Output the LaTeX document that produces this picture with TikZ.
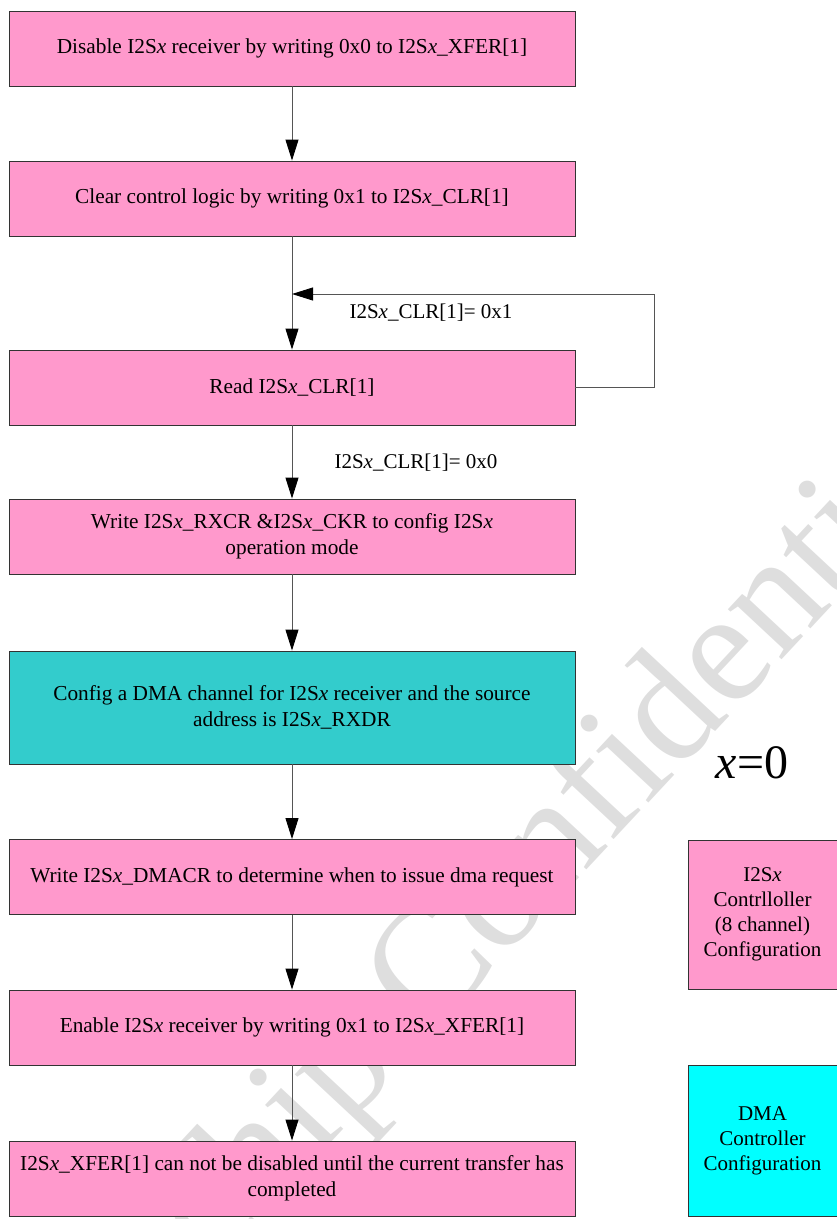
\documentclass[tikz,border=0pt]{standalone}
\usepackage{fontspec}
\setmainfont{Liberation Serif}
\usetikzlibrary{arrows.meta}
\definecolor{pinkc}{HTML}{FF99CC}
\definecolor{tealc}{HTML}{33CCCC}
\definecolor{cyanc}{HTML}{00FFFF}
\definecolor{wmc}{RGB}{222,222,222}
\definecolor{linec}{RGB}{85,85,85}
\newcommand\Ix{I2S\textit{x}}
\tikzset{
  flowbox/.style={draw=black!80, line width=0.9pt, fill=pinkc, minimum width=566pt, minimum height=75pt, inner sep=2pt, align=center, font=\fontsize{21.3}{26}\selectfont},
  sidebox/.style={draw=black!80, line width=0.9pt, fill=pinkc, minimum width=149pt, minimum height=149pt, inner sep=2pt, align=center, font=\fontsize{21}{25}\selectfont},
  lbl/.style={font=\fontsize{21}{26}\selectfont, inner sep=0pt},
  flowarrow/.style={draw=linec, line width=0.9pt, -{Triangle[length=21pt,width=13pt,color=black]}},
}
\begin{document}
\begin{tikzpicture}[x=1pt,y=-1pt]
\useasboundingbox (0,0) rectangle (837,1219);
% watermark
\node[rotate=47, anchor=base, text=wmc, inner sep=0pt, font=\fontsize{160}{160}\selectfont] (wm) at (478,986) {Rockchip Confidential};
% main flow
\node[flowbox] (b1) at (292,48.5) {Disable \Ix{} receiver by writing 0x0 to \Ix\_XFER[1]};
\node[flowbox] (b2) at (292,198.5) {Clear control logic by writing 0x1 to \Ix\_CLR[1]};
\node[flowbox] (b3) at (292,387.5) {Read \Ix\_CLR[1]};
\node[flowbox] (b4) at (292,536.5) {Write \Ix\_RXCR \&\Ix\_CKR to config \Ix\\operation mode};
\node[flowbox, fill=tealc, minimum height=113pt] (b5) at (292,707.5) {Config a DMA channel for \Ix{} receiver and the source\\address is \Ix\_RXDR};
\node[flowbox] (b6) at (292,877) {Write \Ix\_DMACR to determine when to issue dma request};
\node[flowbox] (b7) at (292,1027.5) {Enable \Ix{} receiver by writing 0x1 to \Ix\_XFER[1]};
\node[flowbox] (b8) at (292,1178.5) {\Ix\_XFER[1] can not be disabled until the current transfer has\\completed};
% side boxes
\node[sidebox] (s1) at (762.5,914.5) {\Ix\\Contrlloller\\(8 channel)\\Configuration};
\node[sidebox, fill=cyanc, minimum height=151pt] (s2) at (762.5,1140.5) {DMA\\Controller\\Configuration};
\node[inner sep=0pt, font=\fontsize{48}{48}\selectfont] (x0) at (752,763) {\textit{x}=0};
% connectors
\draw[flowarrow] (b1) -- (b2);
\draw[flowarrow] (b2) -- (b3);
\draw[flowarrow] (b3) -- (b4);
\draw[flowarrow] (b4) -- (b5);
\draw[flowarrow] (b5) -- (b6);
\draw[flowarrow] (b6) -- (b7);
\draw[flowarrow] (b7) -- (b8);
\coordinate (lp1) at (654,387.5);
\coordinate (lp2) at (654,294);
\coordinate (lp3) at (292,294);
\draw[flowarrow] (b3.east) -- (lp1) -- (lp2) -- (lp3);
\node[lbl] (l1) at (431,313) {\Ix\_CLR[1]= 0x1};
\node[lbl] (l0) at (416,463) {\Ix\_CLR[1]= 0x0};
\end{tikzpicture}
\end{document}
